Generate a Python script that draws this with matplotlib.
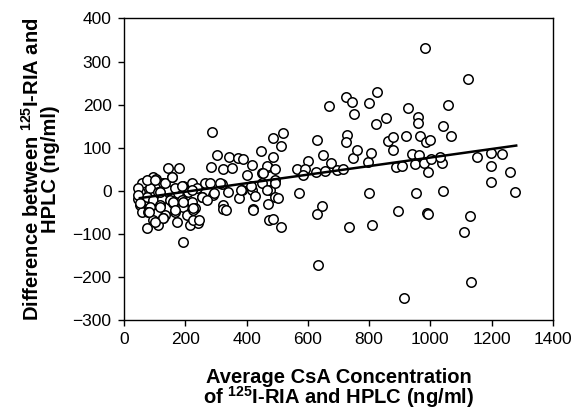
import numpy as np
import matplotlib
matplotlib.use('Agg')
import matplotlib.pyplot as plt

plt.rcParams['font.family'] = ['Liberation Sans', 'DejaVu Sans']
plt.rcParams['mathtext.fontset'] = 'custom'
plt.rcParams['mathtext.bf'] = 'Liberation Sans:bold'
plt.rcParams['mathtext.rm'] = 'Liberation Sans'

# average concentration (ng/ml) and difference RIA - HPLC (ng/ml)
avg = [145, 180, 58, 96, 104, 128, 156, 194, 221, 237, 52, 85, 112, 145, 177, 210,
       47, 74, 96, 123, 150, 188, 221, 52, 85, 118, 161, 194, 232, 58, 79, 107, 134,
       166, 205, 226, 96, 128, 172, 215, 243, 74, 112, 191, 47, 47, 52, 74, 101, 134,
       156, 166, 188, 117, 161, 194, 226, 166, 83, 117, 128, 101, 254,
       286, 302, 344, 371, 389, 417, 446, 283, 324, 351, 400, 449, 471, 264, 281, 321,
       341, 292, 254, 221, 384, 417, 449, 376, 428, 477, 420, 324, 324, 226, 246, 270,
       295, 313, 382, 414, 333, 422, 474,
       485, 518, 511, 629, 729, 725, 648, 601, 674, 746, 759, 487, 468, 493, 566, 591,
       627, 656, 694, 716, 583, 455, 493, 468, 493, 572, 493, 504, 471, 647, 629, 487,
       512, 733, 670, 725, 743, 751, 632,
       982, 1123, 825, 800, 926, 958, 961, 1059, 855, 822, 1042, 1066, 920, 966, 986,
       999, 863, 877, 879, 797, 805, 939, 963, 950, 980, 992, 1039, 1031, 887, 906,
       1001, 1151, 1197, 1235, 1197, 1198, 1261, 1277, 800, 953, 1041, 895, 988, 992,
       808, 1130, 1109, 1134, 915]
diff = [52, 52, 17, 33, 27, 19, 31, 10, 17, 6, -2, 6, -2, 2, -6, -2,
        -18, -14, -21, -18, -21, -21, -25, -33, -37, -33, -29, -37, -41, -49, -49, -52, -56,
        -49, -56, -45, -68, -64, -72, -80, -76, -87, -80, -118, 6, -10, -29, 25, 25, 19,
        33, 6, 10, -2, -25, -25, -41, -45, -49, -37, -64, -72, -14,
        136, 83, 78, 75, 73, 60, 92, 56, 51, 52, 37, 41, 56, 19, 17, 16,
        -2, -10, -15, 2, 2, 2, 19, -17, -12, 2, -43, -33, -43, -68, -68, -21,
        -6, 19, 2, 10, -45, -45, -68,
        122, 133, 104, 118, 130, 114, 83, 68, 64, 75, 95, 79, 58, 50, 50, 50,
        44, 47, 48, 50, 37, 41, 25, 2, 17, -6, -14, -17, -31, -35, -54, -66,
        -83, -83, 197, 218, 207, 178, -172,
        331, 260, 229, 203, 192, 172, 158, 198, 168, 155, 150, 127, 127, 128, 114,
        118, 116, 124, 95, 66, 88, 85, 83, 62, 64, 43, 64, 79, 55, 58,
        73, 79, 88, 85, 58, 21, 43, -3, -5, -6, 0, -46, -52, -55,
        -80, -58, -96, -211, -248]

# fitted regression line (slope, intercept) and its x extent
fit_slope = 0.0993
fit_icpt = -22.2
fit_x = [52, 1280]

fig = plt.figure(figsize=(5.76, 4.15), dpi=100)
ax = fig.add_axes([0.2153, 0.229, 0.7447, 0.7265])

ax.plot(avg, diff, 'o', mfc='white', mec='black', mew=1.1, ms=6.8, ls='none')
fx = np.array(fit_x)
ax.plot(fx, fit_slope * fx + fit_icpt, color='black', lw=1.8)

ax.set_xlim(0, 1400)
ax.set_ylim(-300, 400)
ax.set_xticks(range(0, 1401, 200))
ax.set_yticks(range(-300, 401, 100))
ax.tick_params(direction='out', length=4, width=1, labelsize=12.5, pad=5)
for s in ax.spines.values():
    s.set_linewidth(1.0)

ax.set_xlabel('Average CsA Concentration\nof $\\mathbf{^{125}}$I-RIA and HPLC (ng/ml)',
              fontsize=14.5, fontweight='bold', labelpad=15, linespacing=0.85)
ax.set_ylabel('Difference between $\\mathbf{^{125}}$I-RIA and\nHPLC (ng/ml)',
              fontsize=14.5, fontweight='bold', labelpad=9, linespacing=0.85)

fig.savefig('out.png', dpi=100)
